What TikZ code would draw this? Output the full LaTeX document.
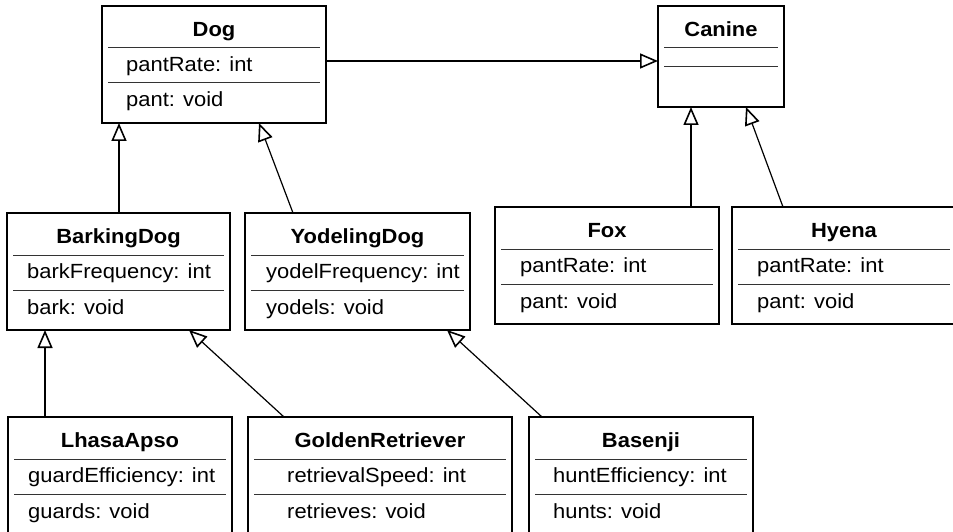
\documentclass[tikz,border=0pt]{standalone}
\usepackage{fontspec}
\setmainfont{Liberation Sans}[FakeStretch=1.07]
\usetikzlibrary{arrows.meta,calc}
\tikzset{
  classbox/.style={draw=black, line width=1.3pt, fill=white, inner sep=0pt, outer sep=0pt, minimum height=117pt, anchor=north west},
  sepline/.style={draw=black!80, line width=1pt},
  titletext/.style={font=\fontsize{20.5}{24}\selectfont\bfseries, anchor=base, inner sep=0pt},
  membertext/.style={font=\fontsize{20.5}{24}\selectfont, anchor=base west, inner sep=0pt},
  inherit/.style={draw=black, line width=1.2pt, -{Triangle[open, length=18pt, width=15pt, line width=1.6pt]}}
}
% #1 name, #2 x, #3 y, #4 width, #5 title, #6 attribute, #7 method, #8 text offset
\newcommand\umlclass[8]{%
  \node[classbox, minimum width=#4pt] (#1) at (#2,#3) {};
  \draw[sepline] ($(#1.north west)+(6,42)$) -- ($(#1.north east)+(-6,42)$);
  \draw[sepline] ($(#1.north west)+(6,77)$) -- ($(#1.north east)+(-6,77)$);
  \node[titletext] (#1-t) at ($(#1.north)+(0,30.5)$) {#5};
  \node[membertext] (#1-a) at ($(#1.north west)+(#8,65.5)$) {#6};
  \node[membertext] (#1-m) at ($(#1.north west)+(#8,101)$) {#7};
}
\begin{document}
\begin{tikzpicture}[x=1pt,y=-1pt]
\useasboundingbox (0,0) rectangle (953,532);
\clip (0,0) rectangle (953,532);
\fill[white] (0,0) rectangle (953,532);

% Canine
\node[classbox, minimum width=126pt, minimum height=101pt] (canine) at (658,6) {};
\draw[sepline] ($(canine.north west)+(6,42)$) -- ($(canine.north east)+(-6,42)$);
\draw[sepline] ($(canine.north west)+(6,61)$) -- ($(canine.north east)+(-6,61)$);
\node[titletext] (canine-t) at ($(canine.north)+(0,30.5)$) {Canine};

\umlclass{dog}{102}{6}{224}{Dog}{pantRate: int}{pant: void}{24}
\umlclass{barking}{7}{213}{223}{BarkingDog}{barkFrequency: int}{bark: void}{20}
\umlclass{yodel}{245}{213}{225}{YodelingDog}{yodelFrequency: int}{yodels: void}{21}
\umlclass{fox}{495}{207}{224}{Fox}{pantRate: int}{pant: void}{25}
\umlclass{hyena}{732}{207}{224}{Hyena}{pantRate: int}{pant: void}{25}
\umlclass{lhasa}{8}{417}{224}{LhasaApso}{guardEfficiency: int}{guards: void}{20}
\umlclass{golden}{248}{417}{264}{GoldenRetriever}{retrievalSpeed: int}{retrieves: void}{39}
\umlclass{basenji}{529}{417}{224}{Basenji}{huntEfficiency: int}{hunts: void}{24}

% Inheritance connectors
\draw[inherit] ($(dog.north east)+(0,55)$) -- ($(canine.north west)+(0,55)$);
\draw[inherit] ($(barking.north west)+(112,0)$) -- ($(dog.south west)+(17,0)$);
\draw[inherit] ($(yodel.north west)+(48,0)$) -- ($(dog.south west)+(157,0)$);
\draw[inherit] ($(fox.north west)+(196,0)$) -- ($(canine.south west)+(33,0)$);
\draw[inherit] ($(hyena.north west)+(51,0)$) -- ($(canine.south west)+(88,0)$);
\draw[inherit] ($(lhasa.north west)+(37,0)$) -- ($(barking.south west)+(38,0)$);
\draw[inherit] ($(golden.north west)+(36,0)$) -- ($(barking.south west)+(182,0)$);
\draw[inherit] ($(basenji.north west)+(13,0)$) -- ($(yodel.south west)+(202,0)$);
\end{tikzpicture}
\end{document}
